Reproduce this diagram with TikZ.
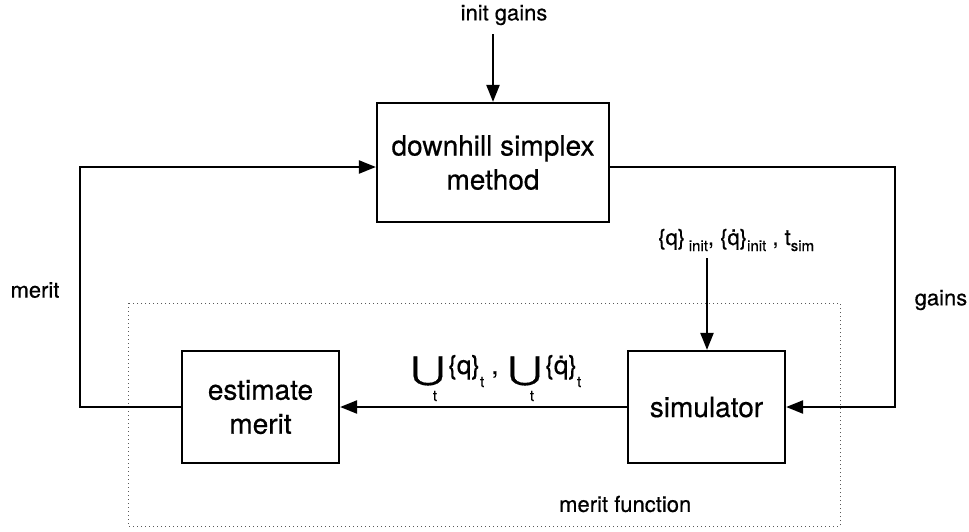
\documentclass[tikz,border=0pt]{standalone}
\usepackage{fontspec}
\setmainfont{TeX Gyre Heros}[FakeBold=0.5]
\newfontfamily\unifont{DejaVu Sans}[FakeBold=0.5]
\usetikzlibrary{arrows.meta}
\newcommand\mysub[2]{\raisebox{#1}{\fontsize{15}{15}\selectfont #2}}
\newcommand\myU{\scalebox{1.05}[0.8]{\unifont\fontsize{40}{40}\selectfont ⋃}}
\begin{document}
\begin{tikzpicture}[x=1pt,y=-1pt,
  box/.style={draw, line width=2.2pt, align=center, inner sep=0pt,
    font=\fontsize{28}{34}\selectfont},
  conn/.style={line width=2.2pt, -{Triangle[length=17pt,width=13pt]}},
  lbl/.style={inner sep=0pt, font=\fontsize{22}{26}\selectfont},
  ulbl/.style={inner sep=0pt, font=\fontsize{26}{30}\selectfont},
  tlbl/.style={inner sep=0pt, font=\fontsize{15}{15}\selectfont},
  dotbox/.style={line width=0.8pt, black!65, dash pattern=on 0.8pt off 3.2pt}]
\useasboundingbox (0,0) rectangle (969,531);
\node[box, minimum width=232pt, minimum height=119pt] (dsm) at (493,162.5) {downhill simplex\\method};
\node[box, minimum width=157pt, minimum height=112pt] (em) at (260.5,407) {estimate\\merit};
\node[box, minimum width=157pt, minimum height=112pt] (sim) at (706.5,407) {simulator};
\draw[dotbox] (128,303) rectangle (840,526);
\node[lbl] (ig) at (504,15) {init gains};
\coordinate (igs) at (493,34);
\draw[conn] (igs) -- (igs |- dsm.north);
\coordinate (mL) at (80,300);
\draw[conn] (em.west) -| (mL) |- ([yshift=-4.5pt]dsm.west);
\coordinate (gR) at (895,300);
\draw[conn] ([yshift=-4.5pt]dsm.east) -| (gR) |- (sim.east);
\node[lbl, anchor=base west] (qin) at (658,245) {\{q\}\,\mysub{-6pt}{init}, \{\.q\}\mysub{-6pt}{init} , t\mysub{-6pt}{sim}};
\coordinate (qs) at (707,258);
\draw[conn] (qs) -- (qs |- sim.north);
\draw[conn] (sim.west) -- (em.east);
\node[ulbl] (u1) at (428,371) {\myU};
\node[tlbl] (t1) at (435,396) {t};
\node[ulbl, anchor=base west] (q1) at (448,374) {\{q\}\mysub{-13pt}{t} ,};
\node[ulbl] (u2) at (525,371) {\myU};
\node[tlbl] (t2) at (532,396) {t};
\node[ulbl, anchor=base west] (q2) at (545,374) {\{\.q\}\mysub{-13pt}{t}};
\node[lbl] (merit) at (35,290) {merit};
\node[lbl] (gains) at (941,300) {gains};
\node[lbl, anchor=west] (mf) at (559,504) {merit function};
\end{tikzpicture}
\end{document}
